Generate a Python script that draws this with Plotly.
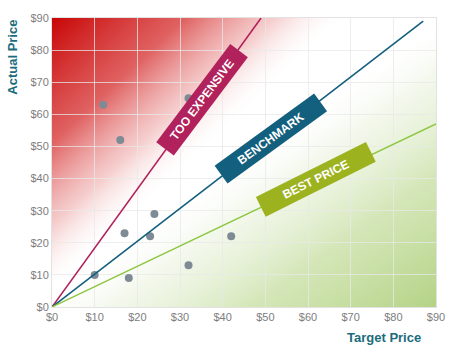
import base64
import plotly.graph_objects as go

# ---- data ----
ticks = [0, 10, 20, 30, 40, 50, 60, 70, 80, 90]
tick_labels = ["$0", "$10", "$20", "$30", "$40", "$50", "$60", "$70", "$80", "$90"]

points_target = [12, 16, 32, 17, 24, 23, 10, 18, 32, 42]
points_actual = [63, 52, 65, 23, 29, 22, 10, 9, 13, 22]

too_expensive_x = [0, 49]
too_expensive_y = [0, 90]
benchmark_x = [0, 87]
benchmark_y = [0, 89]
best_price_x = [0, 90]
best_price_y = [0, 57]

FONT = "Arial, 'Liberation Sans', sans-serif"
TEAL = "#1b6c7c"
C_RED = "#b1215b"
C_BLUE = "#135f7e"
C_GREEN = "#9db21f"

# background gradient (decoration only)
W, H = 384, 291
svg = f"""<svg xmlns='http://www.w3.org/2000/svg' width='{W}' height='{H}' viewBox='0 0 {W} {H}'>
<defs>
<linearGradient id='r' gradientUnits='userSpaceOnUse' x1='0' y1='0' x2='140' y2='148'>
<stop offset='0' stop-color='#c80606' stop-opacity='1'/>
<stop offset='0.45' stop-color='#d83a3a' stop-opacity='0.8'/>
<stop offset='0.75' stop-color='#e88a8a' stop-opacity='0.42'/>
<stop offset='1' stop-color='#ffffff' stop-opacity='0'/>
</linearGradient>
<linearGradient id='g' gradientUnits='userSpaceOnUse' x1='{W}' y1='{H}' x2='{W-140}' y2='{H-195}'>
<stop offset='0' stop-color='#b4d386' stop-opacity='1'/>
<stop offset='0.45' stop-color='#c6dea0' stop-opacity='0.75'/>
<stop offset='0.8' stop-color='#e2eed2' stop-opacity='0.4'/>
<stop offset='1' stop-color='#ffffff' stop-opacity='0'/>
</linearGradient>
</defs>
<rect width='{W}' height='{H}' fill='#ffffff'/>
<rect width='{W}' height='{H}' fill='url(#r)'/>
<rect width='{W}' height='{H}' fill='url(#g)'/>
</svg>"""
bg_src = "data:image/svg+xml;base64," + base64.b64encode(svg.encode()).decode()

fig = go.Figure()

fig.add_trace(go.Scatter(x=points_target, y=points_actual, mode="markers",
                         marker=dict(color="#7e8b95", size=8), hoverinfo="skip"))
fig.add_trace(go.Scatter(x=too_expensive_x, y=too_expensive_y, mode="lines",
                         line=dict(color=C_RED, width=1.6), hoverinfo="skip"))
fig.add_trace(go.Scatter(x=benchmark_x, y=benchmark_y, mode="lines",
                         line=dict(color=C_BLUE, width=1.6), hoverinfo="skip"))
fig.add_trace(go.Scatter(x=best_price_x, y=best_price_y, mode="lines",
                         line=dict(color="#8dc63f", width=1.4), hoverinfo="skip"))

def label(text, x, y, angle, color):
    return dict(x=x, y=y, xref="x", yref="y", text=f"<b>{text}</b>", showarrow=False,
                xanchor="center", yanchor="middle",
                textangle=angle, bgcolor=color, width=118, height=17, borderpad=2,
                font=dict(family=FONT, size=12, color="white"), align="center", valign="middle")

annotations = [
    label("TOO EXPENSIVE", 35.2, 64.6, -53, C_RED),
    label("BENCHMARK", 51.3, 52.4, -36, C_BLUE),
    label("BEST PRICE", 61.8, 39.6, -26.5, C_GREEN),
    dict(x=-0.1016, y=0.866, xref="paper", yref="paper", text="<b>Actual Price</b>",
         xanchor="center", yanchor="middle",
         showarrow=False, textangle=-90, font=dict(family=FONT, size=13, color=TEAL)),
    dict(x=0.865, y=-0.107, xref="paper", yref="paper", text="<b>Target Price</b>",
         xanchor="center", yanchor="middle",
         showarrow=False, font=dict(family=FONT, size=13, color=TEAL)),
]

axis_common = dict(range=[0, 90], tickvals=ticks, ticktext=tick_labels,
                   showgrid=True, gridcolor="rgba(232,232,232,0.75)", gridwidth=1,
                   zeroline=False, showline=True, linecolor="#e2e2e2", linewidth=1, mirror=True,
                   tickfont=dict(family=FONT, size=11, color="#7d7d7d"), fixedrange=True)

fig.update_layout(
    width=474, height=357,
    margin=dict(l=52, r=38, t=16, b=50),
    paper_bgcolor="white", plot_bgcolor="white",
    showlegend=False,
    xaxis=dict(**axis_common),
    yaxis=dict(**axis_common),
    annotations=annotations,
    images=[dict(source=bg_src, xref="paper", yref="paper", x=0, y=1, sizex=1, sizey=1,
                 sizing="stretch", layer="below", xanchor="left", yanchor="top")],
)

fig.write_html("out.html", config={"displayModeBar": False},
               post_script="document.body.style.margin='0';document.body.style.overflow='hidden';")
